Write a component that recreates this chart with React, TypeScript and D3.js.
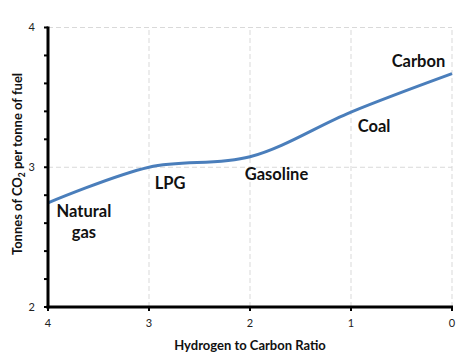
import React from "react";
import * as d3 from "d3";

const ratios = [4, 3, 2, 1, 0];
const co2 = [2.745, 3.0, 3.075, 3.395, 3.67];
const xTicks = [4, 3, 2, 1, 0];
const yTicks = [2, 3, 4];
const yMinor = [2.2, 2.4, 2.6, 2.8, 3.2, 3.4, 3.6, 3.8];
const fuelLabels = [
  { lines: ["Natural", "gas"], x: 3.644, y: 2.644 },
  { lines: ["LPG"], x: 2.792, y: 2.844 },
  { lines: ["Gasoline"], x: 1.738, y: 2.909 },
  { lines: ["Coal"], x: 0.772, y: 3.252 },
  { lines: ["Carbon"], x: 0.332, y: 3.717 },
];

export default function App() {
  const W = 467, H = 357;
  const x = d3.scaleLinear().domain([4, 0]).range([48, 452]);
  const y = d3.scaleLinear().domain([2, 4]).range([307, 27.5]);
  const line = d3
    .line<number>()
    .x((_, i) => x(ratios[i]))
    .y((d) => y(d))
    .curve(d3.curveCatmullRom.alpha(0.5));
  const font = "Lato, 'Open Sans', sans-serif";
  return (
    <svg width={W} height={H} style={{ position: "absolute", left: 0, top: 0 }} fontFamily={font}>
      <rect width={W} height={H} fill="#fff" />
      {[3, 4].map((v) => (
        <line key={"gy" + v} x1={x(4)} x2={x(0)} y1={y(v)} y2={y(v)} stroke="#d9d9d9" strokeDasharray="5,3" />
      ))}
      {[3, 2, 1, 0].map((v) => (
        <line key={"gx" + v} x1={x(v)} x2={x(v)} y1={y(2)} y2={y(4)} stroke="#d9d9d9" strokeDasharray="5,3" />
      ))}
      <path d={line(co2) || ""} fill="none" stroke="#4a7ebb" strokeWidth={3} />
      <line x1={x(4)} x2={x(4)} y1={y(4) - 1} y2={y(2) + 1.5} stroke="#000" strokeWidth={3} />
      <line x1={x(4) - 1.5} x2={x(0) + 1} y1={y(2)} y2={y(2)} stroke="#000" strokeWidth={3} />
      {yTicks.concat(yMinor).map((v) => (
        <line key={"yt" + v} x1={x(4) - 4} x2={x(4)} y1={y(v)} y2={y(v)} stroke="#000" strokeWidth={2} />
      ))}
      {xTicks.map((v) => (
        <line key={"xt" + v} x1={x(v)} x2={x(v)} y1={y(2)} y2={y(2) + 4} stroke="#000" strokeWidth={2} />
      ))}
      {yTicks.map((v) => (
        <text key={"yl" + v} x={35} y={y(v)} dy="0.35em" textAnchor="end" fontSize={11} fill="#222">
          {v}
        </text>
      ))}
      {xTicks.map((v) => (
        <text key={"xl" + v} x={x(v)} y={327} textAnchor="middle" fontSize={11} fill="#222">
          {v}
        </text>
      ))}
      <text x={250} y={350} textAnchor="middle" fontSize={13} fontWeight="bold" fill="#111">
        Hydrogen to Carbon Ratio
      </text>
      <text transform={`translate(22,164) rotate(-90)`} textAnchor="middle" fontSize={13} fontWeight="bold" fill="#111">
        Tonnes of CO<tspan fontSize={8.5} dy={3}>2</tspan>
        <tspan dy={-3}> per tonne of fuel</tspan>
      </text>
      {fuelLabels.map((f) => (
        <text key={f.lines[0]} x={x(f.x)} y={y(f.y)} textAnchor="middle" fontSize={16.5} fontWeight="bold" fill="#111">
          {f.lines.map((l, i) => (
            <tspan key={i} x={x(f.x)} dy={i === 0 ? 0 : 21}>
              {l}
            </tspan>
          ))}
        </text>
      ))}
    </svg>
  );
}
